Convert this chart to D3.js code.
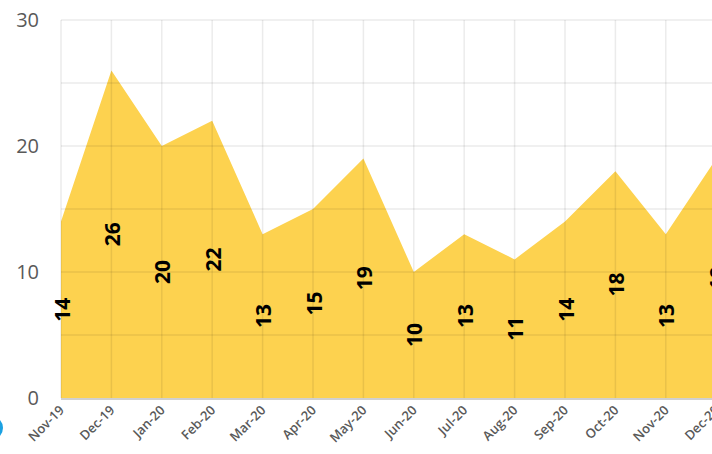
<!DOCTYPE html>
<html>
<head>
<meta charset="utf-8">
<script src="https://cdn.jsdelivr.net/npm/d3@7"></script>
<style>
  body { margin: 0; background: #fff; overflow: hidden; }
  svg { display: block; }
</style>
</head>
<body>
<div id="chart"></div>
<script>
// values
let months = ['Nov-19', 'Dec-19', 'Jan-20', 'Feb-20', 'Mar-20', 'Apr-20', 'May-20',
    'Jun-20', 'Jul-20', 'Aug-20', 'Sep-20', 'Oct-20', 'Nov-20', 'Dec-20'];
let counts = [14, 26, 20, 22, 13, 15, 19, 10, 13, 11, 14, 18, 13, 19];
let yTicks = [0, 10, 20, 30];
let yGrid = [0, 5, 10, 15, 20, 25, 30];

let width = 712,
    height = 454;

let x = d3.scalePoint()
    .domain(months)
    .range([61, 61 + 13 * 50.4]);

let y = d3.scaleLinear()
    .domain([0, 30])
    .range([398, 20]);

let data = months.map(function(m, i) {
    return { month: m, value: counts[i] };
});

let svg = d3.select('#chart').append('svg')
    .attr('width', width)
    .attr('height', height);

// area
let area = d3.area()
    .x(function(d) { return x(d.month); })
    .y0(y(0))
    .y1(function(d) { return y(d.value); });

svg.append('path')
    .datum(data)
    .attr('d', area)
    .attr('fill', '#FDD24F');

// gridlines on top, faint
svg.append('g')
    .selectAll('line')
    .data(yGrid.slice(1))
    .enter().append('line')
    .attr('x1', x(months[0]))
    .attr('x2', width)
    .attr('y1', function(d) { return y(d); })
    .attr('y2', function(d) { return y(d); })
    .attr('stroke', 'rgba(0,0,0,0.08)')
    .attr('stroke-width', 1.5);

svg.append('g')
    .selectAll('line')
    .data(months)
    .enter().append('line')
    .attr('x1', function(d) { return x(d); })
    .attr('x2', function(d) { return x(d); })
    .attr('y1', y(30))
    .attr('y2', y(0))
    .attr('stroke', 'rgba(0,0,0,0.08)')
    .attr('stroke-width', 1.5);

// baseline
svg.append('line')
    .attr('x1', x(months[0]))
    .attr('x2', width)
    .attr('y1', y(0) + 1)
    .attr('y2', y(0) + 1)
    .attr('stroke', '#d0d0d0')
    .attr('stroke-width', 2);

// y labels
svg.append('g')
    .selectAll('text')
    .data(yTicks)
    .enter().append('text')
    .attr('x', 39)
    .attr('y', function(d) { return y(d); })
    .attr('dy', '0.35em')
    .attr('text-anchor', 'end')
    .attr('fill', '#595959')
    .style('font-family', '"Open Sans", "Liberation Sans", sans-serif')
    .style('font-size', '20px')
    .text(function(d) { return d; });

// x labels
svg.append('g')
    .selectAll('text')
    .data(months)
    .enter().append('text')
    .attr('transform', function(d) {
        return 'translate(' + (x(d) + 4) + ',' + 411 + ') rotate(-45)';
    })
    .attr('text-anchor', 'end')
    .attr('fill', '#595959')
    .style('font-family', '"Open Sans", "Liberation Sans", sans-serif')
    .style('font-weight', '600')
    .style('font-size', '13px')
    .text(function(d) { return d; });

// data labels
svg.append('g')
    .selectAll('text')
    .data(data)
    .enter().append('text')
    .attr('transform', function(d) {
        return 'translate(' + (x(d.month) + 1) + ',' + y(d.value / 2) + ') rotate(-90)';
    })
    .attr('text-anchor', 'middle')
    .attr('dy', '0.36em')
    .attr('fill', '#000')
    .style('font-family', '"Open Sans", "Liberation Sans", sans-serif')
    .style('font-weight', '700')
    .style('font-size', '21px')
    .text(function(d) { return d.value; });

// stray marker at the left edge
svg.append('circle')
    .attr('cx', -9)
    .attr('cy', 428)
    .attr('r', 12)
    .attr('fill', '#1BA1E2');
</script>
</body>
</html>
